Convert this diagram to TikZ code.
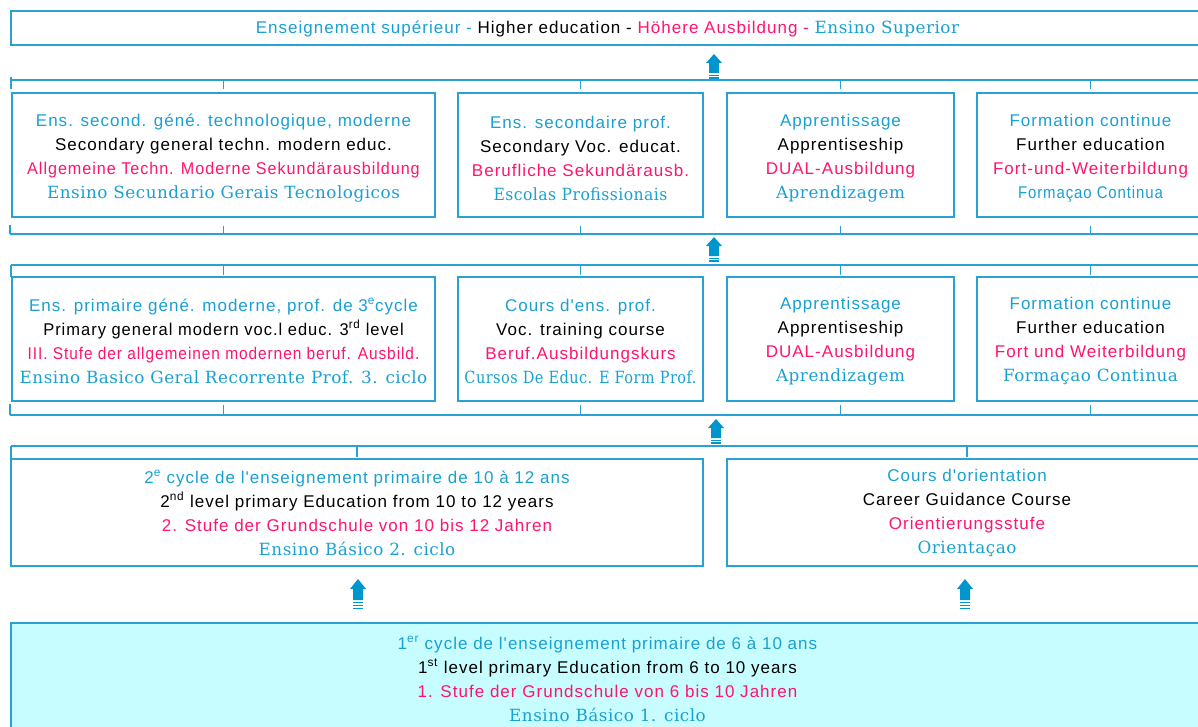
\documentclass[tikz,border=0pt]{standalone}
\usepackage{graphicx}
\usepackage{fontspec}
\setmainfont{Liberation Sans}
\newfontfamily\sansls[LetterSpace=6]{Liberation Sans}
\newfontfamily\serifls[LetterSpace=3]{DejaVu Serif}
\definecolor{tblue}{RGB}{25,160,210}
\definecolor{frame}{RGB}{40,162,212}
\definecolor{tpink}{RGB}{255,20,110}
\definecolor{arrowc}{RGB}{0,150,205}
\definecolor{lightfill}{RGB}{200,253,255}
\newcommand\txfr[1]{{\color{tblue}#1}}
\newcommand\txen[1]{{\color{black}#1}}
\newcommand\txde[1]{{\color{tpink}#1}}
\newcommand\txpt[1]{{\color{tblue}\serifls\fontsize{16.8}{24}\selectfont #1}}
\newcommand\txptsans[1]{{\color{tblue}#1}}
\newcommand\sx[2]{\scalebox{#1}[1]{#2}}
\newcommand\boxfont{\sansls\fontsize{17}{24}\selectfont}
\begin{document}
\begin{tikzpicture}[x=1pt,y=-1pt,
  box/.style={draw=frame, line width=1.4pt, inner sep=0pt},
  txt/.style={inner sep=0pt, align=center, font=\boxfont},
  br/.style={draw=frame, line width=1.4pt},
  uparrow/.pic={
    \fill[arrowc] (0,0) -- (8,9) -- (5,9) -- (5,19) -- (-5,19) -- (-5,9) -- (-8,9) -- cycle;
    \draw[arrowc, line width=1.1pt] (-5,21.5) -- (5,21.5) (-5,24) -- (5,24);
  },
  uparrowlong/.pic={
    \fill[arrowc] (0,0) -- (8,10) -- (5,10) -- (5,21) -- (-5,21) -- (-5,10) -- (-8,10) -- cycle;
    \draw[arrowc, line width=1.1pt] (-5,23.5) -- (5,23.5) (-5,26.5) -- (5,26.5) (-5,29.5) -- (5,29.5);
  }]
\useasboundingbox (0,0) rectangle (1198,727);

% ---------- boxes ----------
\node[box, minimum width=1193pt, minimum height=34pt] (top) at (607.5,28) {};
\node[box, minimum width=423pt, minimum height=124pt] (r1a) at (223.5,155) {};
\node[box, minimum width=245pt, minimum height=124pt] (r1b) at (580.5,155) {};
\node[box, minimum width=227pt, minimum height=124pt] (r1c) at (840.5,155) {};
\node[box, minimum width=227pt, minimum height=124pt] (r1d) at (1090.5,155) {};
\node[box, minimum width=423pt, minimum height=124pt] (r2a) at (223.5,339) {};
\node[box, minimum width=245pt, minimum height=124pt] (r2b) at (580.5,339) {};
\node[box, minimum width=227pt, minimum height=124pt] (r2c) at (840.5,339) {};
\node[box, minimum width=227pt, minimum height=124pt] (r2d) at (1090.5,339) {};
\node[box, minimum width=692pt, minimum height=107pt] (r3a) at (357,512.5) {};
\node[box, minimum width=480pt, minimum height=107pt] (r3b) at (967,512.5) {};
\node[box, fill=lightfill, minimum width=1193pt, minimum height=112pt] (bot) at (607.5,679) {};

% ---------- texts ----------
\node[txt] (top-t) at ([yshift=-1pt]top.center)
  {\txfr{Enseignement supérieur -} \txen{Higher education -} \txde{Höhere Ausbildung -} \txpt{Ensino Superior}};

\node[txt] (r1a-t) at ([yshift=-3pt]r1a.center)
  {\txfr{Ens. second. géné. technologique, moderne}\\
   \txen{Secondary general techn. modern educ.}\\
   \txde{\sx{0.95}{Allgemeine Techn. Moderne Sekundärausbildung}}\\
   \txpt{Ensino Secundario Gerais Tecnologicos}};
\node[txt] (r1b-t) at ([yshift=-3pt]r1b.center)
  {\txfr{Ens. secondaire prof.}\\
   \txen{Secondary Voc. educat.}\\
   \txde{Berufliche Sekundärausb.}\\
   \txpt{\sx{0.93}{Escolas Profissionais}}};
\node[txt] (r1c-t) at ([yshift=-3pt]r1c.center)
  {\txfr{Apprentissage}\\
   \txen{Apprentiseship}\\
   \txde{DUAL-Ausbildung}\\
   \txpt{Aprendizagem}};
\node[txt] (r1d-t) at ([yshift=-3pt]r1d.center)
  {\txfr{Formation continue}\\
   \txen{Further education}\\
   \txde{Fort-und-Weiterbildung}\\
   \txptsans{\sx{0.88}{Formaçao Continua}}};

\node[txt] (r2a-t) at ([yshift=-2pt]r2a.center)
  {\txfr{Ens. primaire géné. moderne, prof. de 3\textsuperscript{e}cycle}\\
   \txen{\sx{0.97}{Primary general modern voc.l educ. 3\textsuperscript{rd} level}}\\
   \txde{\sx{0.91}{III. Stufe der allgemeinen modernen beruf. Ausbild.}}\\
   \txpt{Ensino Basico Geral Recorrente Prof. 3. ciclo}};
\node[txt] (r2b-t) at ([yshift=-2pt]r2b.center)
  {\txfr{Cours d'ens. prof.}\\
   \txen{Voc. training course}\\
   \txde{Beruf.Ausbildungskurs}\\
   \txpt{\sx{0.865}{Cursos De Educ. E Form Prof.}}};
\node[txt] (r2c-t) at ([yshift=-2pt]r2c.center)
  {\txfr{Apprentissage}\\
   \txen{Apprentiseship}\\
   \txde{DUAL-Ausbildung}\\
   \txpt{Aprendizagem}};
\node[txt] (r2d-t) at ([yshift=-2pt]r2d.center)
  {\txfr{Formation continue}\\
   \txen{Further education}\\
   \txde{Fort und Weiterbildung}\\
   \txpt{Formaçao Continua}};

\node[txt] (r3a-t) at ([yshift=-0.5pt]r3a.center)
  {\txfr{2\textsuperscript{e} cycle de l'enseignement primaire de 10 à 12 ans}\\
   \txen{2\textsuperscript{nd} level primary Education from 10 to 12 years}\\
   \txde{2. Stufe der Grundschule von 10 bis 12 Jahren}\\
   \txpt{Ensino Básico 2. ciclo}};
\node[txt] (r3b-t) at ([yshift=-0.5pt]r3b.center)
  {\txfr{Cours d'orientation}\\
   \txen{Career Guidance Course}\\
   \txde{Orientierungsstufe}\\
   \txpt{Orientaçao}};

\node[txt] (bot-t) at (bot.center)
  {\txfr{1\textsuperscript{er} cycle de l'enseignement primaire de 6 à 10 ans}\\
   \txen{1\textsuperscript{st} level primary Education from 6 to 10 years}\\
   \txde{1. Stufe der Grundschule von 6 bis 10 Jahren}\\
   \txpt{Ensino Básico 1. ciclo}};

% ---------- brackets ----------
\draw[br] (11,77) -- (11,89) (11,80) -- (1198,80);
\foreach \n in {r1a,r1b,r1c,r1d} \draw[br] (\n.north) ++(0,-3) -- ++(0,-10);
\draw[br] (10,225) -- (10,234) (10,234) -- (1198,234);
\foreach \n in {r1a,r1b,r1c,r1d} \draw[br] (\n.south) ++(0,8) -- ++(0,9);
\draw[br] (11,265) -- (11,277) (11,265) -- (1198,265);
\foreach \n in {r2a,r2b,r2c,r2d} \draw[br] (\n.north) ++(0,-1) -- ++(0,-11);
\draw[br] (10,404) -- (10,415) (10,415) -- (1198,415);
\foreach \n in {r2a,r2b,r2c,r2d} \draw[br] (\n.south) ++(0,3) -- ++(0,11);
\draw[br] (11,446) -- (11,458) (11,446) -- (1198,446);
\foreach \n in {r3a,r3b} \draw[br] (\n.north) ++(0,-1) -- ++(0,-12);

% ---------- arrows ----------
\coordinate (ar1) at (714,54);
\coordinate (ar2) at (714,237);
\coordinate (ar3) at (716,419);
\coordinate (ar4) at (358,579);
\coordinate (ar5) at (965,579);
\pic at (ar1) {uparrow};
\pic at (ar2) {uparrow};
\pic at (ar3) {uparrow};
\pic at (ar4) {uparrowlong};
\pic at (ar5) {uparrowlong};
\end{tikzpicture}
\end{document}
